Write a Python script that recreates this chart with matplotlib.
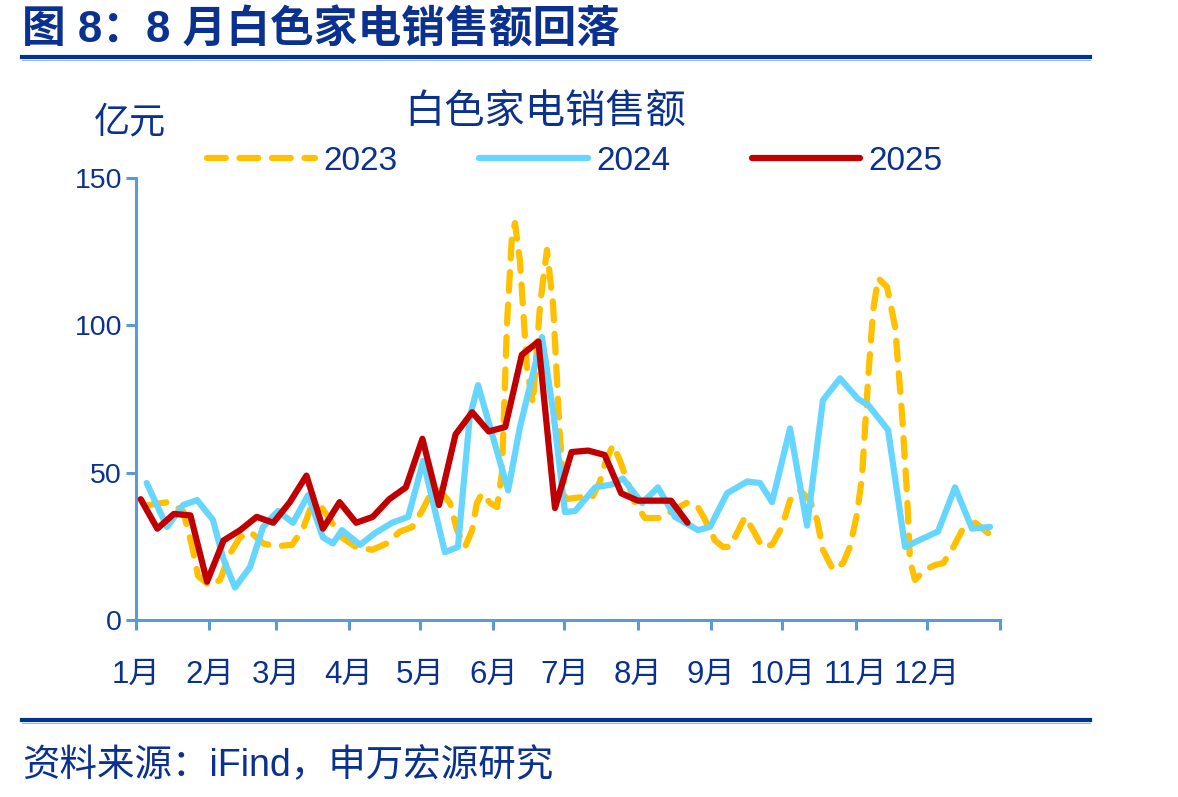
import matplotlib
matplotlib.use('Agg')
import matplotlib.pyplot as plt
from matplotlib.lines import Line2D

plt.rcParams['font.family'] = ['Liberation Sans', 'Noto Sans CJK SC', 'DejaVu Sans']

# ---------------- data ----------------
month_labels = ['1月', '2月', '3月', '4月', '5月', '6月', '7月', '8月', '9月', '10月', '11月', '12月']
month_start_days = [0, 31, 59, 90, 120, 151, 181, 212, 243, 273, 304, 334, 365]
y_ticks = [0, 50, 100, 150]

days_2023 = [5, 13.5, 19.9, 23.7, 26.2, 31.3, 35.5, 39.7, 43.9, 48.2, 53.7, 58.7, 65.9, 70.6, 73.5,
             77.7, 82, 87, 92.5, 99.7, 106, 111.5, 116.6, 120.8, 124.2, 128.4, 132.7, 135.6, 139,
             142, 144, 146.2, 149.6, 152.5, 154.6, 156.7, 158.8, 160.1, 162.2, 165.2, 167.7, 170.7,
             173.6, 176.2, 179.1, 181.2, 188.4, 192.6, 196, 198.1, 201.5, 204.5, 210.8, 215, 222.2,
             226.4, 233.2, 237.4, 240.4, 244.6, 248, 251, 253.9, 257.3, 260.7, 264.5, 268.7, 272.9,
             276.3, 280.5, 284.7, 287.7, 290.2, 294.5, 298.7, 301.6, 304.6, 306.7, 309.3, 311.4,
             313.5, 317.3, 320.7, 323.6, 325.7, 327, 329.1, 333.3, 337.6, 341, 344.7, 349, 354.5, 360]
vals_2023 = [39, 40, 37, 25, 15, 11.5, 13.6, 22.5, 28, 30, 26, 25, 25.5, 31, 37.5,
             39, 34, 28, 25, 23.8, 26, 30, 31.5, 37, 42.4, 44, 39.7, 30.5, 24.8,
             30.5, 39.7, 43, 39.7, 38.3, 50, 100, 130, 134.7, 122, 85, 73.6, 107,
             125.6, 107, 62, 41, 41.7, 41.4, 47, 53, 59.4, 54, 39.7, 34.6, 34.6,
             37, 40, 38.3, 34, 27, 24.8, 24.8, 29.5, 35, 30.5, 24.8, 25.5, 31.6,
             40.7, 44, 40.7, 34, 23.8, 17, 19.3, 24.8, 36, 48.5, 82, 105,
             116, 113, 99.4, 70, 43, 20, 13.6, 17, 18.7, 19.3, 23.8, 30.5, 33, 29.5]

days_2024 = [4.5, 13.1, 19.9, 25.8, 32.5, 36.8, 41.8, 48.2, 53.7, 60, 66.3, 72.7, 79, 83.2, 87,
             94.6, 101, 108.2, 115, 121.3, 130.5, 136, 141, 144.5, 157.2, 162.2, 171.5, 176.2,
             181.2, 185.5, 194, 201, 205.7, 213.8, 220.5, 227.7, 237.4, 242.5, 249.7, 258.2, 263.6,
             268.7, 276.3, 283.5, 290.2, 297.4, 305, 309.3, 317.7, 324.9, 333.3, 338.8, 346, 353.2,
             360.8]
vals_2024 = [46.5, 31.6, 39, 40.7, 34, 21, 11, 18, 31.6, 37, 33, 42.4, 28, 26, 30.5,
             25.5, 29.5, 33, 35, 54, 23, 24.8, 69, 79.7, 44, 65.5, 96, 71,
             36.6, 37, 45, 46, 48, 39.7, 45, 35, 30.5, 31.6, 43, 47, 46.5,
             40, 65, 32, 74.6, 82, 75, 73, 64.5, 24.8, 28, 30, 45, 31,
             31.6]

days_2025 = [2, 9, 16, 23, 30, 37, 44, 51, 58, 65, 72, 79, 86, 93, 100, 107, 114, 121, 128, 135,
             142, 149, 156, 163, 170, 177, 184, 191, 198, 205, 212, 219, 226, 233]
vals_2025 = [41, 31, 36, 35.5, 13, 27, 30.5, 35, 33, 40, 49, 31, 40, 33, 35, 41, 45, 61.5, 39, 63,
             70.5, 64, 65.5, 90, 94.5, 38, 57, 57.5, 56, 43, 40.5, 40.5, 40.5, 33]

series_names = ['2023', '2024', '2025']

# ---------------- style ----------------
TXT = '#0B3190'
AXC = '#5B9BD5'
C23 = '#FFC000'
C24 = '#66D6FF'
C25 = '#C00000'
LW = 4.5

fig = plt.figure(figsize=(11.78, 7.97), dpi=100)
ax = fig.add_axes([136 / 1178, 1 - 620 / 797, 864 / 1178, 442 / 797])

ax.plot(days_2023, vals_2023, color=C23, lw=LW, linestyle=(0, (3.0, 2.2)),
        dash_capstyle='round', solid_joinstyle='round', dash_joinstyle='round', zorder=2)
ax.plot(days_2024, vals_2024, color=C24, lw=LW, solid_capstyle='round',
        solid_joinstyle='round', zorder=3)
ax.plot(days_2025, vals_2025, color=C25, lw=LW, solid_capstyle='round',
        solid_joinstyle='round', zorder=4)

ax.set_xlim(month_start_days[0], month_start_days[-1])
ax.set_ylim(0, 150)
ax.set_xticks(month_start_days)
ax.set_xticklabels(month_labels + [''])
ax.set_yticks(y_ticks)
ax.set_yticklabels([str(v) for v in y_ticks])

for s in ['top', 'right']:
    ax.spines[s].set_visible(False)
for s in ['left', 'bottom']:
    ax.spines[s].set_color(AXC)
    ax.spines[s].set_linewidth(2.2)
ax.tick_params(axis='both', colors=AXC, width=2.2, length=7, direction='out')
ax.tick_params(axis='x', labelsize=22.5, labelcolor=TXT, pad=22)
ax.tick_params(axis='y', labelsize=20.5, labelcolor=TXT, pad=3)
ax.set_facecolor('white')

# legend
h23 = Line2D([], [], color=C23, lw=LW, linestyle=(0, (3.0, 2.2)), dash_capstyle='round')
h24 = Line2D([], [], color=C24, lw=LW, solid_capstyle='round')
h25 = Line2D([], [], color=C25, lw=LW, solid_capstyle='round')
leg = fig.legend([h23, h24, h25], series_names, ncol=3, loc='center left',
                 bbox_to_anchor=(207 / 1178, 1 - 161 / 797), frameon=False,
                 fontsize=24, handlelength=3.25, handletextpad=0.25, columnspacing=2.45,
                 borderpad=0, borderaxespad=0)
for t in leg.get_texts():
    t.set_color(TXT)

# texts
fig.text(22 / 1178, 1 - 30 / 797, '图 8：8 月白色家电销售额回落', fontsize=31.5, fontweight='bold',
         color=TXT, ha='left', va='center', family=['Liberation Sans', 'Noto Sans CJK SC'])
fig.text(545 / 1178, 1 - 113 / 797, '白色家电销售额', fontsize=29, color=TXT, ha='center', va='center')
fig.text(130 / 1178, 1 - 123 / 797, '亿元', fontsize=26, color=TXT, ha='center', va='center')
fig.text(22 / 1178, 1 - 766 / 797, '资料来源：iFind，申万宏源研究', fontsize=27, color=TXT,
         ha='left', va='center')

# separator lines
for yy in [57, 720]:
    fig.add_artist(Line2D([22 / 1178, 1090 / 1178], [1 - yy / 797, 1 - yy / 797],
                          color='#003399', lw=3.0, transform=fig.transFigure))
    fig.add_artist(Line2D([22 / 1178, 1090 / 1178], [1 - (yy + 2.5) / 797, 1 - (yy + 2.5) / 797],
                          color='#9DB8E0', lw=0.8, transform=fig.transFigure))

fig.savefig('out.png', dpi=100, facecolor='white')
